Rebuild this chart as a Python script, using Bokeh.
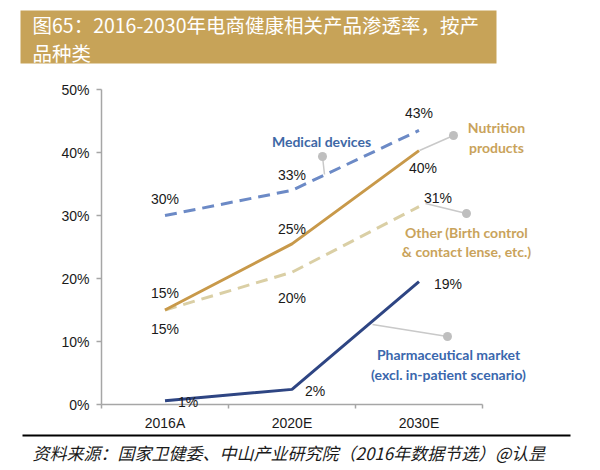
from bokeh.plotting import figure
from bokeh.models import (Range1d, LinearAxis, FixedTicker, PrintfTickFormatter,
                          CustomJSTickFormatter, ColumnDataSource, Label, LabelSet,
                          BoxAnnotation, Arrow)
from bokeh.core.properties import value
from bokeh.embed import file_html
from bokeh.resources import INLINE

# ---------------- data ----------------
categories = ["2016A", "2020E", "2030E"]
medical = [30, 34, 43.5]
nutrition = [15, 25.5, 40.3]
other = [15, 21, 31.4]
pharma = [0.6, 2.4, 19.5]
medical_labels = ["30%", "33%", "43%"]
nutrition_labels = ["15%", "25%", "40%"]
other_labels = ["15%", "20%", "31%"]
pharma_labels = ["1%", "2%", "19%"]
y_ticks = [0, 10, 20, 30, 40, 50]
title_lines = ["图65：2016-2030年电商健康相关产品渗透率，按产", "品种类"]
source_note = "资料来源：国家卫健委、中山产业研究院（2016年数据节选）@认昰"

# ---------------- layout (page pixels) ----------------
W, H = 596, 466
OFF = 0                         # measured canvas offset on the page
AX_L, AX_R = 101, 482           # x-axis extent on the page
AX_B, AX_T = 404, 89            # y-axis extent on the page (0% and 50%)
Y_MAX = 50
ncat = len(categories)
xu = (AX_R - AX_L) / ncat       # px per category
yu = (AX_B - AX_T) / Y_MAX      # px per percent

x_range = Range1d((OFF - AX_L) / xu, (OFF + W - AX_L) / xu)
y_range = Range1d((AX_B - (OFF + H)) / yu, (AX_B - OFF) / yu)

p = figure(width=W, height=H, x_range=x_range, y_range=y_range,
           output_backend="svg", toolbar_location=None, x_axis_type=None, y_axis_type=None,
           min_border=0, min_border_left=0, min_border_right=0, min_border_top=0, min_border_bottom=0)
p.outline_line_color = None
p.background_fill_color = "white"
p.border_fill_color = "white"

# page-pixel ranges for decorations
p.extra_x_ranges = {"px": Range1d(OFF, OFF + W)}
p.extra_y_ranges = {"py": Range1d(OFF + H, OFF)}

AX = "#A6A6A6"
yaxis = LinearAxis(ticker=FixedTicker(ticks=y_ticks), formatter=PrintfTickFormatter(format="%d%%"),
                   fixed_location=0, bounds=(0, Y_MAX))
yaxis.axis_line_color = AX
yaxis.axis_line_width = 1.5
yaxis.major_tick_line_color = AX
yaxis.major_tick_line_width = 1.5
yaxis.major_tick_out = 5
yaxis.major_tick_in = 0
yaxis.minor_tick_out = 0
yaxis.minor_tick_in = 0
yaxis.major_label_standoff = 7
yaxis.major_label_text_font = "Liberation Sans"
yaxis.major_label_text_font_size = "14px"
yaxis.major_label_text_color = "#1a1a1a"
p.add_layout(yaxis, "left")

centers = [i + 0.5 for i in range(ncat)]
edges = list(range(ncat + 1))
xaxis = LinearAxis(ticker=FixedTicker(ticks=centers, minor_ticks=edges),
                   formatter=CustomJSTickFormatter(args=dict(cats=categories),
                                                   code="return cats[Math.floor(tick)]"),
                   fixed_location=0, bounds=(0, ncat))
xaxis.axis_line_color = AX
xaxis.axis_line_width = 1.5
xaxis.major_tick_out = 0
xaxis.major_tick_in = 0
xaxis.minor_tick_out = 4
xaxis.minor_tick_in = 0
xaxis.minor_tick_line_color = AX
xaxis.minor_tick_line_width = 1.5
xaxis.major_label_standoff = 6
xaxis.major_label_text_font = "Liberation Sans"
xaxis.major_label_text_font_size = "14px"
xaxis.major_label_text_color = "#1a1a1a"
p.add_layout(xaxis, "below")

# ---------------- lines ----------------
p.line(centers, other, line_color="#DACFA5", line_width=3, line_dash="12 7")
p.line(centers, medical, line_color="#6C8AC6", line_width=3, line_dash="12 7")
p.line(centers, nutrition, line_color="#C8994A", line_width=3)
p.line(centers, pharma, line_color="#2E4583", line_width=3)

# ---------------- value labels ----------------
label_dx = {"med": [0, 0, 0], "nut": [0, 0, 4], "oth": [0, 0, 19], "pha": [23, 23, 29]}
label_dy = {"med": [17, 15, 17], "nut": [17, 15, -17], "oth": [-19, -26, 9], "pha": [-1, -2, -2]}
for key, vals, labs in [("med", medical, medical_labels), ("nut", nutrition, nutrition_labels),
                        ("oth", other, other_labels), ("pha", pharma, pharma_labels)]:
    src = ColumnDataSource(dict(x=centers, y=vals, t=labs, dx=label_dx[key], dy=label_dy[key]))
    p.add_layout(LabelSet(x="x", y="y", text="t", x_offset="dx", y_offset="dy", source=src,
                          text_align="center", text_baseline="middle",
                          text_font=value("Liberation Sans"), text_font_size="14px",
                          text_color="#1a1a1a"))

# ---------------- series call-outs ----------------
def pxlabel(x, y, text, color, size="14px", font="Lato", style="bold", align="center"):
    p.add_layout(Label(x=x, y=y, text=text, x_range_name="px", y_range_name="py",
                       text_align=align, text_baseline="middle", text_color=color,
                       text_font=font, text_font_size=size, text_font_style=style))

def leader(x0, y0, x1, y1):
    p.add_layout(Arrow(end=None, x_start=x0, y_start=y0, x_end=x1, y_end=y1,
                       x_range_name="px", y_range_name="py",
                       line_color="#C9C9C9", line_width=1.5))
    r = 4.5
    p.add_layout(BoxAnnotation(left=x0 - r, right=x0 + r, top=y0 - r, bottom=y0 + r,
                               x_range_name="px", y_range_name="py",
                               fill_color="#BFBFBF", fill_alpha=1, line_color=None,
                               border_radius=5))

leader(322, 156, 324, 174)
leader(453, 135, 419, 150)
leader(466, 213, 425, 203)
leader(447, 336, 372, 324)

pxlabel(321, 141, "Medical devices", "#3E68A6")
pxlabel(496, 127, "Nutrition", "#C9A35B")
pxlabel(496, 147, "products", "#C9A35B")
pxlabel(466, 232, "Other (Birth control", "#C9A35B")
pxlabel(466, 251, "& contact lense, etc.)", "#C9A35B")
pxlabel(448, 354, "Pharmaceutical market", "#3A67AD")
pxlabel(448, 374, "(excl. in-patient scenario)", "#3A67AD")

# ---------------- title banner ----------------
p.add_layout(BoxAnnotation(left=20, right=496, top=10, bottom=63, x_range_name="px", y_range_name="py",
                           fill_color="#C7A358", fill_alpha=1, line_color=None, level="underlay"))
pxlabel(32, 24, title_lines[0], "#FFFFFF", size="19.5px", font="Noto Sans CJK SC", style="normal", align="left")
pxlabel(32, 52, title_lines[1], "#FFFFFF", size="19.5px", font="Noto Sans CJK SC", style="normal", align="left")

# ---------------- footer ----------------
p.add_layout(BoxAnnotation(left=22, right=570, top=434, bottom=436, x_range_name="px", y_range_name="py",
                           fill_color="#000000", fill_alpha=1, line_color=None))
pxlabel(32, 452, source_note, "#1a1a1a", size="17px", font="Noto Sans CJK SC", style="italic", align="left")

open("out.html", "w").write(file_html(p, INLINE))
